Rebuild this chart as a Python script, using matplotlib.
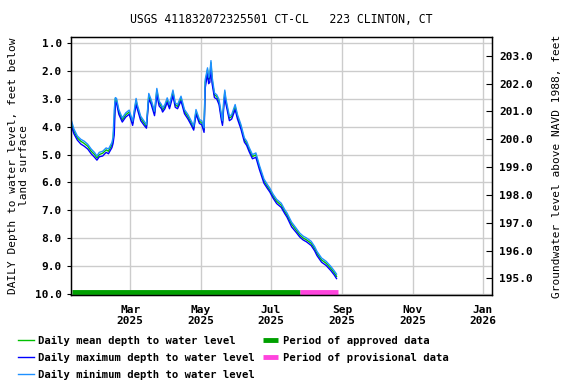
import matplotlib
matplotlib.use("Agg")
import matplotlib.pyplot as plt
import matplotlib.dates as mdates
import pandas as pd

# daily depth readings, feet below land surface
dates = ["2025-01-09", "2025-01-11", "2025-01-14", "2025-01-17", "2025-01-20", "2025-01-23",
         "2025-01-26", "2025-01-29", "2025-01-31", "2025-02-02", "2025-02-05", "2025-02-08",
         "2025-02-10", "2025-02-13", "2025-02-14", "2025-02-15", "2025-02-16", "2025-02-17",
         "2025-02-19", "2025-02-22", "2025-02-25", "2025-02-28", "2025-03-03", "2025-03-06",
         "2025-03-07", "2025-03-10", "2025-03-13", "2025-03-15", "2025-03-17", "2025-03-19",
         "2025-03-22", "2025-03-24", "2025-03-26", "2025-03-28", "2025-03-29", "2025-03-31",
         "2025-04-02", "2025-04-04", "2025-04-07", "2025-04-09", "2025-04-11", "2025-04-14",
         "2025-04-17", "2025-04-20", "2025-04-23", "2025-04-25", "2025-04-27", "2025-04-29",
         "2025-04-30", "2025-05-02", "2025-05-04", "2025-05-05", "2025-05-06", "2025-05-07",
         "2025-05-08", "2025-05-09", "2025-05-10", "2025-05-11", "2025-05-13", "2025-05-15",
         "2025-05-17", "2025-05-19", "2025-05-20", "2025-05-21", "2025-05-22", "2025-05-23",
         "2025-05-26", "2025-05-28", "2025-05-31", "2025-06-02", "2025-06-05", "2025-06-08",
         "2025-06-10", "2025-06-12", "2025-06-15", "2025-06-18", "2025-06-21", "2025-06-25",
         "2025-06-28", "2025-06-30", "2025-07-03", "2025-07-06", "2025-07-10", "2025-07-13",
         "2025-07-15", "2025-07-19", "2025-07-23", "2025-07-26", "2025-07-29", "2025-08-01",
         "2025-08-05", "2025-08-08", "2025-08-10", "2025-08-14", "2025-08-18", "2025-08-22",
         "2025-08-25", "2025-08-27"]

mean_depth = [3.90, 4.15, 4.40, 4.52, 4.60, 4.70, 4.88, 5.00, 5.12, 5.00, 4.95, 4.83,
              4.88, 4.65, 4.47, 3.80, 2.98, 3.05, 3.45, 3.75, 3.57, 3.47, 3.87, 3.05,
              3.27, 3.69, 3.87, 3.99, 2.87, 3.09, 3.51, 2.69, 3.15, 3.27, 3.39, 3.27,
              3.03, 3.27, 2.75, 3.21, 3.27, 2.97, 3.45, 3.63, 3.87, 4.05, 3.45, 3.69,
              3.81, 3.85, 4.11, 2.40, 2.20, 1.95, 2.30, 2.25, 1.70, 2.31, 2.85, 2.91,
              3.10, 3.63, 3.87, 3.20, 2.75, 3.09, 3.69, 3.63, 3.27, 3.63, 3.99, 4.47,
              4.59, 4.80, 5.07, 5.01, 5.45, 5.95, 6.15, 6.27, 6.50, 6.68, 6.82, 7.05,
              7.17, 7.50, 7.72, 7.89, 8.00, 8.07, 8.19, 8.38, 8.55, 8.79, 8.91, 9.09,
              9.25, 9.38]

max_depth = [4.00, 4.25, 4.48, 4.62, 4.70, 4.80, 4.97, 5.10, 5.20, 5.08, 5.05, 4.92,
             4.97, 4.75, 4.60, 4.30, 3.10, 3.15, 3.55, 3.83, 3.65, 3.55, 3.95, 3.20,
             3.35, 3.78, 3.95, 4.05, 3.00, 3.18, 3.60, 2.85, 3.25, 3.35, 3.47, 3.35,
             3.12, 3.35, 2.88, 3.30, 3.35, 3.07, 3.53, 3.72, 3.95, 4.12, 3.55, 3.77,
             3.88, 3.93, 4.20, 2.60, 2.35, 2.10, 2.45, 2.40, 1.80, 2.45, 2.95, 3.00,
             3.20, 3.75, 3.95, 3.35, 2.90, 3.18, 3.78, 3.72, 3.38, 3.72, 4.08, 4.55,
             4.67, 4.88, 5.15, 5.10, 5.53, 6.03, 6.22, 6.34, 6.57, 6.76, 6.90, 7.12,
             7.25, 7.60, 7.80, 7.96, 8.07, 8.14, 8.27, 8.46, 8.63, 8.87, 8.99, 9.17,
             9.33, 9.46]

min_depth = [3.80, 4.08, 4.33, 4.45, 4.52, 4.63, 4.80, 4.93, 5.05, 4.92, 4.88, 4.76,
             4.80, 4.57, 4.38, 3.40, 2.95, 2.98, 3.38, 3.68, 3.50, 3.40, 3.80, 2.98,
             3.20, 3.62, 3.80, 3.92, 2.80, 3.02, 3.44, 2.62, 3.08, 3.20, 3.32, 3.20,
             2.96, 3.20, 2.68, 3.14, 3.20, 2.90, 3.38, 3.56, 3.80, 3.98, 3.38, 3.62,
             3.74, 3.78, 4.04, 2.30, 2.10, 1.88, 2.22, 2.10, 1.62, 2.20, 2.78, 2.85,
             3.02, 3.55, 3.78, 3.10, 2.68, 3.00, 3.62, 3.56, 3.20, 3.56, 3.92, 4.40,
             4.52, 4.73, 5.00, 4.94, 5.38, 5.88, 6.08, 6.20, 6.43, 6.61, 6.75, 6.98,
             7.10, 7.43, 7.65, 7.82, 7.93, 8.00, 8.12, 8.31, 8.48, 8.72, 8.84, 9.02,
             9.18, 9.30]

approved_period = ["2025-01-09", "2025-07-26"]
provisional_period = ["2025-07-26", "2025-08-28"]

datum = 204.45  # land surface elevation, NAVD 1988

plt.rcParams["font.family"] = "DejaVu Sans Mono"
plt.rcParams["font.weight"] = "bold"
plt.rcParams["font.size"] = 8

t = pd.to_datetime(dates)

fig = plt.figure(figsize=(5.76, 3.84), dpi=100)
ax = fig.add_axes([0.1233, 0.2318, 0.7309, 0.6719])

ax.plot(t, mean_depth, color="#00c000", lw=1.0, label="Daily mean depth to water level")
ax.plot(t, max_depth, color="#0000ff", lw=1.0, label="Daily maximum depth to water level")
ax.plot(t, min_depth, color="#1e90ff", lw=1.0, label="Daily minimum depth to water level")

ax.plot(pd.to_datetime(approved_period), [9.95, 9.95], color="#00a000", lw=3.5,
        solid_capstyle="butt", label="Period of approved data")
ax.plot(pd.to_datetime(provisional_period), [9.95, 9.95], color="#ff44dd", lw=3.5,
        solid_capstyle="butt", label="Period of provisional data")

ax.set_xlim(pd.Timestamp("2025-01-08 12:00"), pd.Timestamp("2026-01-09"))
ax.set_ylim(10.05, 0.77)
ax.set_yticks([1, 2, 3, 4, 5, 6, 7, 8, 9, 10])
ax.yaxis.set_major_formatter(plt.FormatStrFormatter("%.1f"))
ax.xaxis.set_major_locator(mdates.MonthLocator(bymonth=[1, 3, 5, 7, 9, 11]))
ax.xaxis.set_major_formatter(mdates.DateFormatter("%b\n%Y"))
ax.grid(True, color="#cccccc", lw=1.0)
ax.set_axisbelow(True)
ax.tick_params(axis="x", length=0, pad=7)
ax.tick_params(axis="y", length=3, direction="out")
for s in ax.spines.values():
    s.set_linewidth(1.0)

ax.set_ylabel("DAILY Depth to water level, feet below\nland surface", labelpad=4)
ax.set_title("USGS 411832072325501 CT-CL   223 CLINTON, CT", fontsize=8.3, pad=10)

ax2 = ax.twinx()
ax2.set_ylim(datum - 10.05, datum - 0.77)
ax2.set_yticks([195, 196, 197, 198, 199, 200, 201, 202, 203])
ax2.yaxis.set_major_formatter(plt.FormatStrFormatter("%.1f"))
ax2.tick_params(axis="y", length=4, direction="in", pad=5)
ax2.set_ylabel("Groundwater level above NAVD 1988, feet", labelpad=14)

handles, labels = ax.get_legend_handles_labels()
fig.legend(handles, labels, loc="upper left", bbox_to_anchor=(0.031, 0.126), ncol=2,
           frameon=False, fontsize=7.6, handlelength=1.5, handletextpad=0.45,
           columnspacing=0.7, labelspacing=0.68, borderpad=0, borderaxespad=0)

fig.savefig("out.png", dpi=100)
